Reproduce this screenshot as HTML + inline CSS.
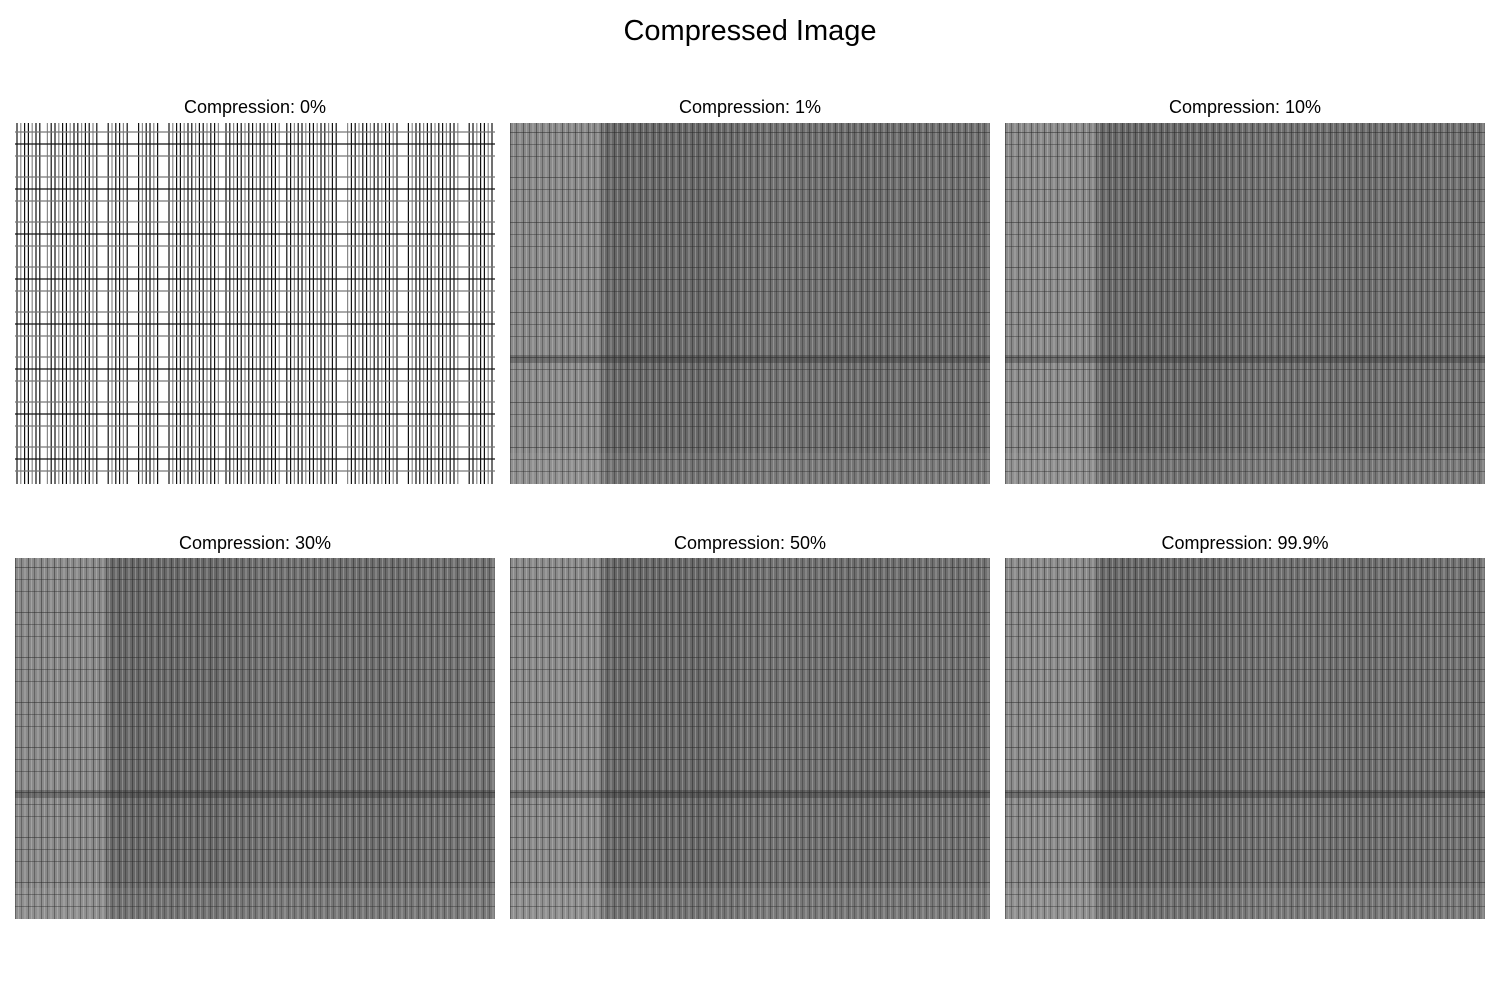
<!DOCTYPE html>
<html><head><meta charset="utf-8">
<style>
body{margin:0;width:1500px;height:1000px;background:#fff;font-family:"Liberation Sans",sans-serif;position:relative;overflow:hidden}
.t{position:absolute;width:480px;text-align:center;font-size:18px;color:#000}
.p{position:absolute;width:480px;height:361px}
.g{background:
 repeating-linear-gradient(180deg,transparent 0 9px,rgba(40,40,40,.5) 9px 10px,transparent 10px 21px,rgba(40,40,40,.4) 21px 22px,transparent 22px 33px,rgba(40,40,40,.4) 33px 34px,transparent 34px 45px),
 linear-gradient(180deg,transparent 0 232px,rgba(30,30,30,.3) 232px 240px,transparent 240px 330px,rgba(200,200,200,.1) 330px 361px),
 repeating-linear-gradient(90deg,rgba(30,30,30,.45) 0 1px,transparent 1px 3px,rgba(220,220,220,.3) 3px 4px,transparent 4px 6px,rgba(30,30,30,.35) 6px 7px,transparent 7px 9px,rgba(200,200,200,.25) 9px 11px,transparent 11px 13px),
 linear-gradient(90deg,#8a8a8a 0 88px,#686868 96px 200px,#717171 260px,#6c6c6c 360px,#727272 480px)}
</style></head><body>
<div style="position:absolute;top:15px;width:1500px;text-align:center;font-size:29px">Compressed Image</div>

<div class="t" style="left:15px;top:97px">Compression: 0%</div>
<svg class="p" style="left:15px;top:123px" id="p0" width="480" height="361"></svg>

<div class="t" style="left:510px;top:97px">Compression: 1%</div>
<div class="p g" style="left:510px;top:123px"></div>
<div class="t" style="left:1005px;top:97px">Compression: 10%</div>
<div class="p g" style="left:1005px;top:123px"></div>
<div class="t" style="left:15px;top:533px">Compression: 30%</div>
<div class="p g" style="left:15px;top:558px"></div>
<div class="t" style="left:510px;top:533px">Compression: 50%</div>
<div class="p g" style="left:510px;top:558px"></div>
<div class="t" style="left:1005px;top:533px">Compression: 99.9%</div>
<div class="p g" style="left:1005px;top:558px"></div>

<script>
const gaps=[28,88,118,148,208,268,328,388,448];
const rowOffsets=[9,21,33];
const svg=document.getElementById('p0');
const NS='http://www.w3.org/2000/svg';
let k=0;
for(let x=2;x<480;x+=3.8){
  if(gaps.some(g=>Math.abs(g-x)<3)) continue;
  const l=document.createElementNS(NS,'line');
  
  
  l.setAttribute('x1',x);l.setAttribute('x2',x);l.setAttribute('y1',0);l.setAttribute('y2',361);
  l.setAttribute('stroke',k%3===1?'#888':'#111');l.setAttribute('stroke-width',1.2);
  svg.appendChild(l);k++;
}
for(let b=0;b<361;b+=45){
  rowOffsets.forEach((o,i)=>{
    const y=b+o; if(y>361) return;
    const l=document.createElementNS(NS,'line');
    
    
    l.setAttribute('x1',0);l.setAttribute('x2',480);l.setAttribute('y1',y);l.setAttribute('y2',y);
    l.setAttribute('stroke',i===1?'#111':'#777');l.setAttribute('stroke-width',1.3);
    svg.appendChild(l);
  });
}
</script>
</body></html>
